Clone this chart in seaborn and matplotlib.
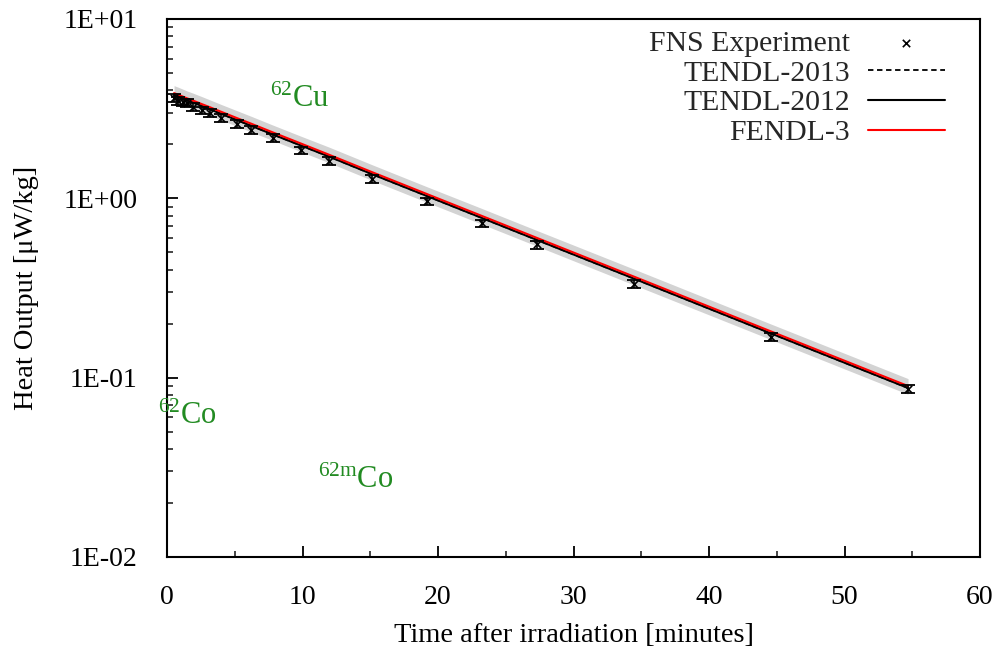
import matplotlib
matplotlib.use("Agg")
import matplotlib.pyplot as plt
import numpy as np
import pandas as pd
import seaborn as sns
from matplotlib.ticker import FixedLocator, LogLocator, NullFormatter, FixedFormatter, MultipleLocator

# ---------------- data ----------------
time_min = [0.52, 0.81, 1.18, 1.48, 1.92, 2.58, 3.17, 3.99, 5.17, 6.20,
            7.82, 9.89, 11.96, 15.13, 19.19, 23.25, 27.31, 34.46, 44.58, 54.69]
fns_heat = [3.62, 3.48, 3.43, 3.40, 3.22, 3.10, 2.99, 2.80, 2.59, 2.40,
            2.16, 1.85, 1.61, 1.29, 0.962, 0.725, 0.553, 0.335, 0.169, 0.0869]
fns_err = [0.18, 0.17, 0.17, 0.17, 0.16, 0.15, 0.15, 0.14, 0.13, 0.12,
           0.11, 0.09, 0.08, 0.065, 0.048, 0.036, 0.028, 0.017, 0.0085, 0.0045]

fendl3 = [3.86, 3.79, 3.69, 3.61, 3.51, 3.35, 3.22, 3.04, 2.80, 2.61,
          2.33, 2.02, 1.75, 1.40, 1.056, 0.797, 0.601, 0.366, 0.181, 0.0898]
tendl2012 = [3.76, 3.70, 3.60, 3.52, 3.42, 3.27, 3.14, 2.96, 2.73, 2.54,
             2.27, 1.97, 1.71, 1.365, 1.030, 0.777, 0.586, 0.357, 0.1765, 0.0876]
tendl2013 = [3.76, 3.70, 3.60, 3.52, 3.42, 3.27, 3.14, 2.96, 2.73, 2.54,
             2.27, 1.97, 1.71, 1.365, 1.030, 0.777, 0.586, 0.357, 0.1765, 0.0876]
band_hi = [4.25, 4.17, 4.06, 3.97, 3.86, 3.69, 3.54, 3.34, 3.08, 2.87,
           2.56, 2.22, 1.93, 1.54, 1.16, 0.877, 0.661, 0.403, 0.199, 0.0988]
band_lo = [3.47, 3.41, 3.32, 3.25, 3.16, 3.02, 2.90, 2.74, 2.52, 2.35,
           2.10, 1.82, 1.58, 1.26, 0.950, 0.717, 0.541, 0.329, 0.163, 0.0808]

x_ticks = [0, 10, 20, 30, 40, 50, 60]
y_ticks = [0.01, 0.1, 1, 10]
y_tick_labels = ["1E-02", "1E-01", "1E+00", "1E+01"]

iso_labels = [r"$^{62}$Cu", r"$^{62}$Co", r"$^{62\mathrm{m}}$Co"]
iso_x = [7.6, -0.66, 11.14]
iso_y = [3.22, 0.0553, 0.0243]

# ---------------- style ----------------
sns.set_theme(style="white")
plt.rcParams["font.family"] = ["Liberation Serif", "DejaVu Serif"]
plt.rcParams["mathtext.fontset"] = "custom"
plt.rcParams["mathtext.rm"] = "Liberation Serif"
plt.rcParams["mathtext.it"] = "Liberation Serif:italic"
plt.rcParams["mathtext.bf"] = "Liberation Serif:bold"

fig = plt.figure(figsize=(10.02, 6.55), dpi=100)
ax = fig.add_axes([167 / 1002, (655 - 557) / 655, (980 - 167) / 1002, (557 - 19) / 655])

calc = pd.DataFrame({"t": time_min, "FENDL-3": fendl3, "TENDL-2012": tendl2012,
                     "TENDL-2013": tendl2013, "hi": band_hi, "lo": band_lo})
expt = pd.DataFrame({"t": time_min, "heat": fns_heat, "err": fns_err})

ax.fill_between(calc["t"], calc["lo"], calc["hi"], color="#d3d3d3", lw=0, zorder=1)
sns.lineplot(data=calc, x="t", y="TENDL-2013", ax=ax, color="black", lw=1.3,
             linestyle=(0, (3, 2)), label="TENDL-2013", zorder=2)
sns.lineplot(data=calc, x="t", y="TENDL-2012", ax=ax, color="black", lw=1.5,
             label="TENDL-2012", zorder=3)
sns.lineplot(data=calc, x="t", y="FENDL-3", ax=ax, color="#ff0000", lw=1.5,
             label="FENDL-3", zorder=4)
ax.errorbar(expt["t"], expt["heat"], yerr=expt["err"], fmt="none", ecolor="black",
            elinewidth=1.2, capsize=5, capthick=1.3, zorder=5)
sns.scatterplot(data=expt, x="t", y="heat", ax=ax, marker="x", color="black",
                s=28, linewidth=1.2, label="FNS Experiment", zorder=6)

ax.set_yscale("log")
ax.set_xlim(0, 60)
ax.set_ylim(0.01, 10)

ax.xaxis.set_major_locator(FixedLocator(x_ticks))
ax.xaxis.set_minor_locator(MultipleLocator(5))
ax.yaxis.set_major_locator(FixedLocator(y_ticks))
ax.yaxis.set_major_formatter(FixedFormatter(y_tick_labels))
ax.yaxis.set_minor_locator(LogLocator(base=10, subs=np.arange(2, 10)))
ax.yaxis.set_minor_formatter(NullFormatter())

ax.tick_params(which="major", direction="in", length=8, width=1.3,
               labelsize=20, colors="black", bottom=True, left=True, top=False, right=False)
ax.tick_params(which="minor", direction="in", length=4.5, width=1.2,
               bottom=True, left=True, top=False, right=False)
ax.tick_params(axis="x", which="major", pad=20)
ax.tick_params(axis="y", which="major", pad=21)

for s in ax.spines.values():
    s.set_color("black")
    s.set_linewidth(1.5)

ax.set_xlabel("Time after irradiation [minutes]", fontsize=20.5, color="black")
ax.set_ylabel("Heat Output [\u03bcW/kg]", fontsize=20.5, color="black")
ax.xaxis.set_label_coords(0.5, -0.122)
ax.yaxis.set_label_coords(-0.158, 0.5)

for lab, xx, yy in zip(iso_labels, iso_x, iso_y):
    ax.text(xx, yy, lab, color="#228b22", fontsize=22, ha="left", va="baseline",
            clip_on=False, zorder=7)

h, l = ax.get_legend_handles_labels()
order = ["FNS Experiment", "TENDL-2013", "TENDL-2012", "FENDL-3"]
hmap = dict(zip(l, h))
ax.legend([hmap[k] for k in order], order, loc="upper right",
          bbox_to_anchor=((945 - 167) / 813, 1 - (30 - 19) / 538),
          frameon=False, fontsize=21.4, markerfirst=False, borderpad=0,
          borderaxespad=0, labelspacing=0.1, handlelength=2.6, handletextpad=0.6)

fig.savefig("out.png", dpi=100)
